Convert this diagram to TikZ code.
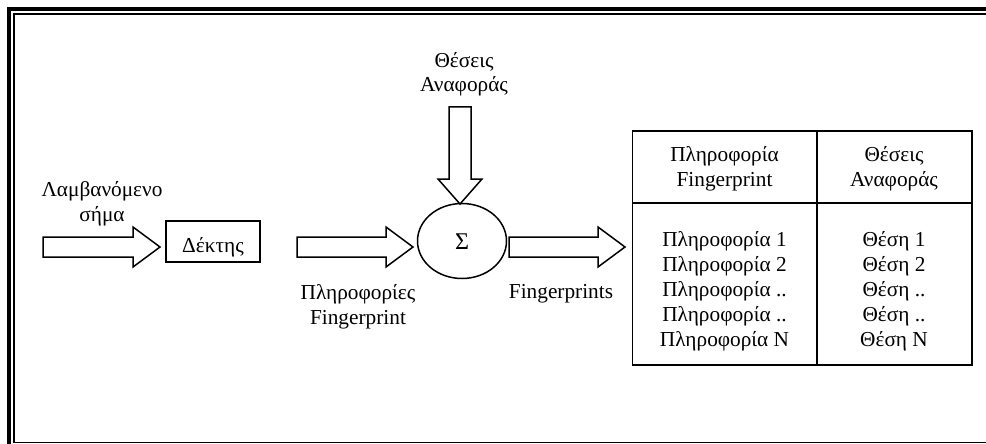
\documentclass[tikz,border=0pt]{standalone}
\usepackage{fontspec}
\setmainfont{Liberation Serif}
\usetikzlibrary{calc,shapes.geometric}
\newcommand\blockharrow[2]{\draw[fat] ($(#1)+(0,-10)$) -- ($(#2)+(-27,-10)$) -- ($(#2)+(-27,-20)$) -- (#2) -- ($(#2)+(-27,20)$) -- ($(#2)+(-27,10)$) -- ($(#1)+(0,10)$) -- cycle;}
\newcommand\blockvarrow[2]{\draw[fat] ($(#1)+(-11,0)$) -- ($(#2)+(-11,-25)$) -- ($(#2)+(-22,-25)$) -- (#2) -- ($(#2)+(22,-25)$) -- ($(#2)+(11,-25)$) -- ($(#1)+(11,0)$) -- cycle;}
\begin{document}
\begin{tikzpicture}[x=1pt,y=-1pt,
  txt/.style={font=\fontsize{21.3}{25}\selectfont, inner sep=0pt, anchor=base},
  fat/.style={draw, line width=1.5pt, fill=white, line join=miter},
  boxstyle/.style={draw, line width=1.5pt, font=\fontsize{21.3}{25}\selectfont, inner sep=0pt},
]
\useasboundingbox (0,0) rectangle (986,444);
\clip (0,0) rectangle (986,444);
% page frame
\draw[line width=4pt, line join=miter] (9.3,460) -- (9.3,9.3) -- (1000,9.3);
\draw[line width=1.3pt, line join=miter] (1000,442.3) -- (13.9,442.3) -- (13.9,13.9) -- (1000,13.9);

% main blocks
\node[boxstyle, minimum width=94pt, minimum height=41pt, text height=21pt, text depth=0pt] (dek) at (213,241.5) {Δέκτης};
\node[boxstyle, ellipse, minimum width=89pt, minimum height=75pt, text height=16pt, text depth=0pt, font=\fontsize{24}{28}\selectfont] (sum) at (462,241) {Σ};
\node[draw, line width=1.5pt, minimum width=339.5pt, minimum height=234pt, inner sep=0pt] (tbl) at (802.25,248) {};
\coordinate (hdr) at (0,203);
\coordinate (mid) at (816.5,0);
\draw[line width=1.5pt] (tbl.west |- hdr) -- (tbl.east |- hdr);
\draw[line width=2pt] (mid |- tbl.north) -- (mid |- tbl.south);

% block arrows
\coordinate (in0) at (43,247);
\coordinate (in1) at (160,247);
\coordinate (a2s) at (297,247);
\coordinate (a2e) at (413,247);
\coordinate (a3s) at (509,247);
\coordinate (a3e) at (625,247);
\coordinate (d0) at (460,107);
\coordinate (d1) at (460,204);
\blockharrow{in0}{in1}
\blockharrow{a2s}{a2e}
\blockharrow{a3s}{a3e}
\blockvarrow{d0}{d1}

% labels
\node[txt] (l1a) at (102,196.5) {Λαμβανόμενο};
\node[txt] (l1b) at (102,221.5) {σήμα};
\node[txt] (l2a) at (464,67) {Θέσεις};
\node[txt] (l2b) at (464,91.5) {Αναφοράς};
\node[txt] (l3a) at (358,299) {Πληροφορίες};
\node[txt] (l3b) at (358,324) {Fingerprint};
\node[txt] (l4) at (561,298) {Fingerprints};

% table contents
\node[txt] (h1a) at (724.5,161) {Πληροφορία};
\node[txt] (h1b) at (724.5,186.5) {Fingerprint};
\node[txt] (h2a) at (894,161) {Θέσεις};
\node[txt] (h2b) at (894,186.5) {Αναφοράς};
\node[txt] (r1a) at (724.5,246) {Πληροφορία 1};
\node[txt] (r2a) at (724.5,271) {Πληροφορία 2};
\node[txt] (r3a) at (724.5,296) {Πληροφορία ..};
\node[txt] (r4a) at (724.5,321) {Πληροφορία ..};
\node[txt] (r5a) at (724.5,346) {Πληροφορία N};
\node[txt] (r1b) at (894,246) {Θέση 1};
\node[txt] (r2b) at (894,271) {Θέση 2};
\node[txt] (r3b) at (894,296) {Θέση ..};
\node[txt] (r4b) at (894,321) {Θέση ..};
\node[txt] (r5b) at (894,346) {Θέση N};
\end{tikzpicture}
\end{document}
